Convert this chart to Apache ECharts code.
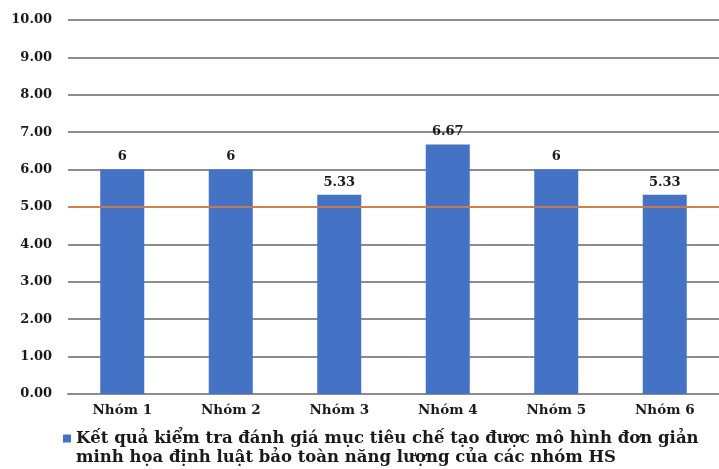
<!DOCTYPE html>
<html><head><meta charset="utf-8">
<script src="https://cdn.jsdelivr.net/npm/echarts@6/dist/echarts.min.js"></script>
<style>html,body{margin:0;padding:0;background:#fff}#c{width:719px;height:469px}</style>
</head><body><div id="c"></div>
<script>
const categories = ['Nhóm 1','Nhóm 2','Nhóm 3','Nhóm 4','Nhóm 5','Nhóm 6'];
const scores = [6, 6, 5.33, 6.67, 6, 5.33];
const thresholdValue = 5;
const seriesName = 'Kết quả kiểm tra đánh giá mục tiêu chế tạo được mô hình đơn giản\nminh họa định luật bảo toàn năng lượng của các nhóm HS';

const font = '"DejaVu Serif",serif';
const chart = echarts.init(document.getElementById('c'));
chart.setOption({
  animation: false,
  grid: {left: 68, right: -7, top: 20, bottom: 75},
  xAxis: {
    type: 'category', data: categories,
    axisLine: {lineStyle: {color: '#8c8c8c', width: 2}},
    axisTick: {show: false},
    axisLabel: {fontFamily: font, fontWeight: 'bold', fontSize: 13.5, color: '#1a1a1a', margin: 9}
  },
  yAxis: {
    type: 'value', min: 0, max: 10, interval: 1,
    axisLine: {show: false}, axisTick: {show: false},
    splitLine: {lineStyle: {color: '#8c8c8c', width: 2}},
    axisLabel: {fontFamily: font, fontWeight: 'bold', fontSize: 13, color: '#1a1a1a', margin: 16,
      formatter: v => v.toFixed(2)}
  },
  legend: {
    left: 58, top: 424, itemWidth: 8, itemHeight: 27, itemGap: 5,
    icon: 'path://M0,0h8v8h-8z M0,27h0.01v0.01h-0.01z',
    textStyle: {fontFamily: font, fontWeight: 'bold', fontSize: 16.5, color: '#1a1a1a', lineHeight: 19}
  },
  series: [{
    name: seriesName, type: 'bar', data: scores, barWidth: 44,
    itemStyle: {color: '#4472C4'},
    label: {show: true, position: 'top', distance: 6, fontFamily: font, fontWeight: 'bold', fontSize: 13, color: '#1a1a1a'},
    markLine: {
      silent: true, symbol: 'none', label: {show: false},
      lineStyle: {color: '#ED7D31', width: 1.5, type: 'solid'},
      data: [{yAxis: thresholdValue}]
    }
  }]
});
</script></body></html>
